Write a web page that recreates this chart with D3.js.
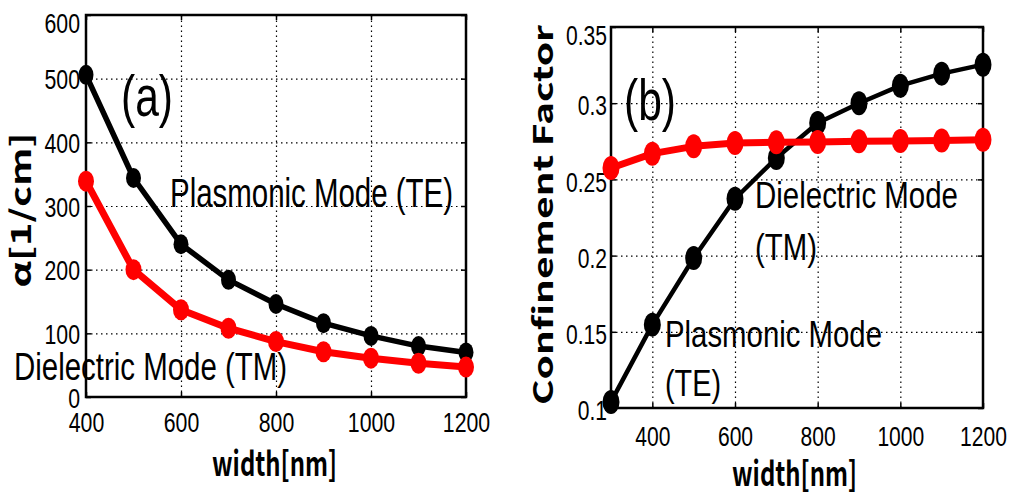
<!DOCTYPE html>
<html>
<head>
<meta charset="utf-8">
<script src="https://cdn.jsdelivr.net/npm/d3@7"></script>
<style>
  html, body { margin: 0; padding: 0; background: #fff; }
  svg { display: block; }
  .num { font-family: "Liberation Sans", Arial, sans-serif; fill: #000; }
  .ann { font-family: "Liberation Sans", Arial, sans-serif; fill: #000; }
  .lab { font-family: "Noto Sans CJK JP", "DejaVu Sans", sans-serif; font-weight: bold; fill: #000; }
</style>
</head>
<body>
<svg id="chart" width="1016" height="499"></svg>
<script>
// Sweep of waveguide width [nm]
const widthsA = [400, 500, 600, 700, 800, 900, 1000, 1100, 1200];
const widthsB = [300, 400, 500, 600, 700, 800, 900, 1000, 1100, 1200];

// (a) propagation loss alpha [1/cm]
const lossPlasmonicTE = [506, 344, 240, 184, 146, 116, 96, 80, 70];
const lossDielectricTM = [339, 200, 137, 108, 87, 71, 61, 53, 47];

// (b) confinement factor
const confPlasmonicTE = [0.104, 0.1547, 0.1984, 0.2373, 0.264, 0.287, 0.300, 0.3115, 0.3194, 0.3253];
const confDielectricTM = [0.2575, 0.2669, 0.2717, 0.2739, 0.2743, 0.2745, 0.2750, 0.2752, 0.2755, 0.2760];

// Tick labels
const ticksAX = [400, 600, 800, 1000, 1200];
const ticksAY = [0, 100, 200, 300, 400, 500, 600];
const ticksBX = [400, 600, 800, 1000, 1200];
const ticksBY = [0.1, 0.15, 0.2, 0.25, 0.3, 0.35];

const svg = d3.select("#chart");

function text(g, str, x, y, size, len, cls, extra) {
  const t = g.append("text")
    .attr("class", cls)
    .attr("x", x).attr("y", y)
    .attr("font-size", size)
    .text(str);
  if (len) t.attr("textLength", len).attr("lengthAdjust", "spacingAndGlyphs");
  if (extra) extra(t);
  return t;
}

// narrow the tick numerals: tall, condensed digits
function condense(sel, ratio) {
  sel.each(function () {
    const w = this.getComputedTextLength();
    d3.select(this).attr("textLength", w * ratio).attr("lengthAdjust", "spacingAndGlyphs");
  });
}

function panel(opt) {
  const { box, xDomain, yDomain, xTicks, yTicks, yFmt, series } = opt;
  const x = d3.scaleLinear().domain(xDomain).range([box.l, box.r]);
  const y = d3.scaleLinear().domain(yDomain).range([box.b, box.t]);
  const g = svg.append("g");
  const W = box.r - box.l, H = box.b - box.t;

  // dotted grid
  const gridX = xTicks.filter(v => v > xDomain[0] && v < xDomain[1]);
  const gridY = yTicks.filter(v => v > yDomain[0] && v < yDomain[1]);
  g.append("g").attr("transform", `translate(0,${box.b})`)
    .call(d3.axisBottom(x).tickValues(gridX).tickSize(-H).tickFormat(""))
    .call(a => a.select(".domain").remove())
    .call(a => a.selectAll("line").attr("stroke", "#000").attr("stroke-width", 1.2).attr("stroke-dasharray", "1.5,3.5"));
  g.append("g").attr("transform", `translate(${box.l},0)`)
    .call(d3.axisLeft(y).tickValues(gridY).tickSize(-W).tickFormat(""))
    .call(a => a.select(".domain").remove())
    .call(a => a.selectAll("line").attr("stroke", "#000").attr("stroke-width", 1.2).attr("stroke-dasharray", "1.5,3.5"));

  // inward tick marks on all four sides
  const tk = 5;
  const sides = [
    [d3.axisBottom(x).tickValues(xTicks), `translate(0,${box.b})`],
    [d3.axisTop(x).tickValues(xTicks), `translate(0,${box.t})`],
    [d3.axisLeft(y).tickValues(yTicks), `translate(${box.l},0)`],
    [d3.axisRight(y).tickValues(yTicks), `translate(${box.r},0)`]
  ];
  sides.forEach(([ax, tr]) => {
    g.append("g").attr("transform", tr)
      .call(ax.tickSize(-tk).tickFormat(""))
      .call(a => a.select(".domain").remove())
      .call(a => a.selectAll("line").attr("stroke", "#000").attr("stroke-width", 1.5));
  });

  // tick labels
  const fs = opt.tickFont;
  const yl = g.append("g").attr("transform", `translate(${box.l},0)`)
    .call(d3.axisLeft(y).tickValues(yTicks).tickSize(0).tickPadding(opt.yPad).tickFormat(yFmt));
  yl.select(".domain").remove();
  yl.attr("font-size", fs).attr("font-family", null);
  yl.selectAll("text").attr("class", "num").attr("font-size", fs)
    .attr("dy", null)
    .attr("y", d => Math.max(y(d) + opt.yOff, opt.yMinCenter) - y(d) + fs * 0.36)
    .call(condense, opt.squeeze);
  const xl = g.append("g").attr("transform", `translate(0,${box.b})`)
    .call(d3.axisBottom(x).tickValues(xTicks).tickSize(0).tickPadding(0).tickFormat(d3.format("d")));
  xl.select(".domain").remove();
  xl.attr("font-size", fs).attr("font-family", null);
  xl.selectAll("text").attr("class", "num").attr("font-size", fs)
    .attr("dy", null).attr("y", opt.xLabBase - box.b)
    .call(condense, opt.squeeze);

  // frame
  g.append("rect").attr("x", box.l).attr("y", box.t).attr("width", W).attr("height", H)
    .attr("fill", "none").attr("stroke", "#000").attr("stroke-width", 2.5);

  // series
  series.forEach(s => {
    const pts = s.xs.map((v, i) => [v, s.ys[i]]);
    g.append("path").datum(pts)
      .attr("fill", "none").attr("stroke", s.color).attr("stroke-width", s.lw)
      .attr("stroke-linejoin", "round")
      .attr("d", d3.line().x(d => x(d[0])).y(d => y(d[1])));
    g.selectAll(null).data(pts).join("ellipse")
      .attr("cx", d => x(d[0])).attr("cy", d => y(d[1]))
      .attr("rx", s.rx).attr("ry", s.ry).attr("fill", s.color);
  });
  return g;
}

// ---- panel (a)
const ga = panel({
  box: { l: 86, r: 466, t: 15, b: 397 },
  xDomain: [400, 1200], yDomain: [0, 600],
  xTicks: ticksAX, yTicks: ticksAY, yFmt: d3.format("d"),
  tickFont: 28, squeeze: 0.76,
  yPad: 6, yOff: 0, yMinCenter: 22, xLabBase: 432,
  series: [
    { xs: widthsA, ys: lossPlasmonicTE, color: "#000", lw: 5.5, rx: 7.5, ry: 10 },
    { xs: widthsA, ys: lossDielectricTM, color: "#ff0000", lw: 7, rx: 8, ry: 10.5 }
  ]
});
text(ga, "(a)", 121, 116, 58, 52, "ann");
text(ga, "Plasmonic Mode (TE)", 170, 207, 40, 283, "ann");
text(ga, "Dielectric Mode (TM)", 14, 380, 38, 273, "ann");
text(ga, "width[nm]", 212, 476, 34, 125, "lab");
text(ga, "α[1/cm]", 0, 0, 28, 155, "lab",
  t => t.attr("text-anchor", "middle").attr("transform", "translate(31,210) rotate(-90)").attr("x", 0).attr("y", 0));

// ---- panel (b)
const gb = panel({
  box: { l: 611, r: 983, t: 27, b: 408 },
  xDomain: [300, 1200], yDomain: [0.1, 0.35],
  xTicks: ticksBX, yTicks: ticksBY, yFmt: d => d3.format("")(+d.toFixed(2)),
  tickFont: 27, squeeze: 0.78,
  yPad: 4, yOff: 2, yMinCenter: 35, xLabBase: 446,
  series: [
    { xs: widthsB, ys: confPlasmonicTE, color: "#000", lw: 4.5, rx: 8.5, ry: 12 },
    { xs: widthsB, ys: confDielectricTM, color: "#ff0000", lw: 7, rx: 8.5, ry: 12 }
  ]
});
text(gb, "(b)", 624, 120, 58, 52, "ann");
text(gb, "Dielectric Mode", 755, 208, 37, 203, "ann");
text(gb, "(TM)", 755, 260, 37, 62, "ann");
text(gb, "Plasmonic Mode", 665, 347, 37, 217, "ann");
text(gb, "(TE)", 665, 396, 37, 56, "ann");
text(gb, "width[nm]", 732, 486, 34, 125, "lab");
text(gb, "Confinement Factor", 0, 0, 27, 380, "lab",
  t => t.attr("text-anchor", "middle").attr("transform", "translate(553,215) rotate(-90)").attr("x", 0).attr("y", 0));
</script>
</body>
</html>
